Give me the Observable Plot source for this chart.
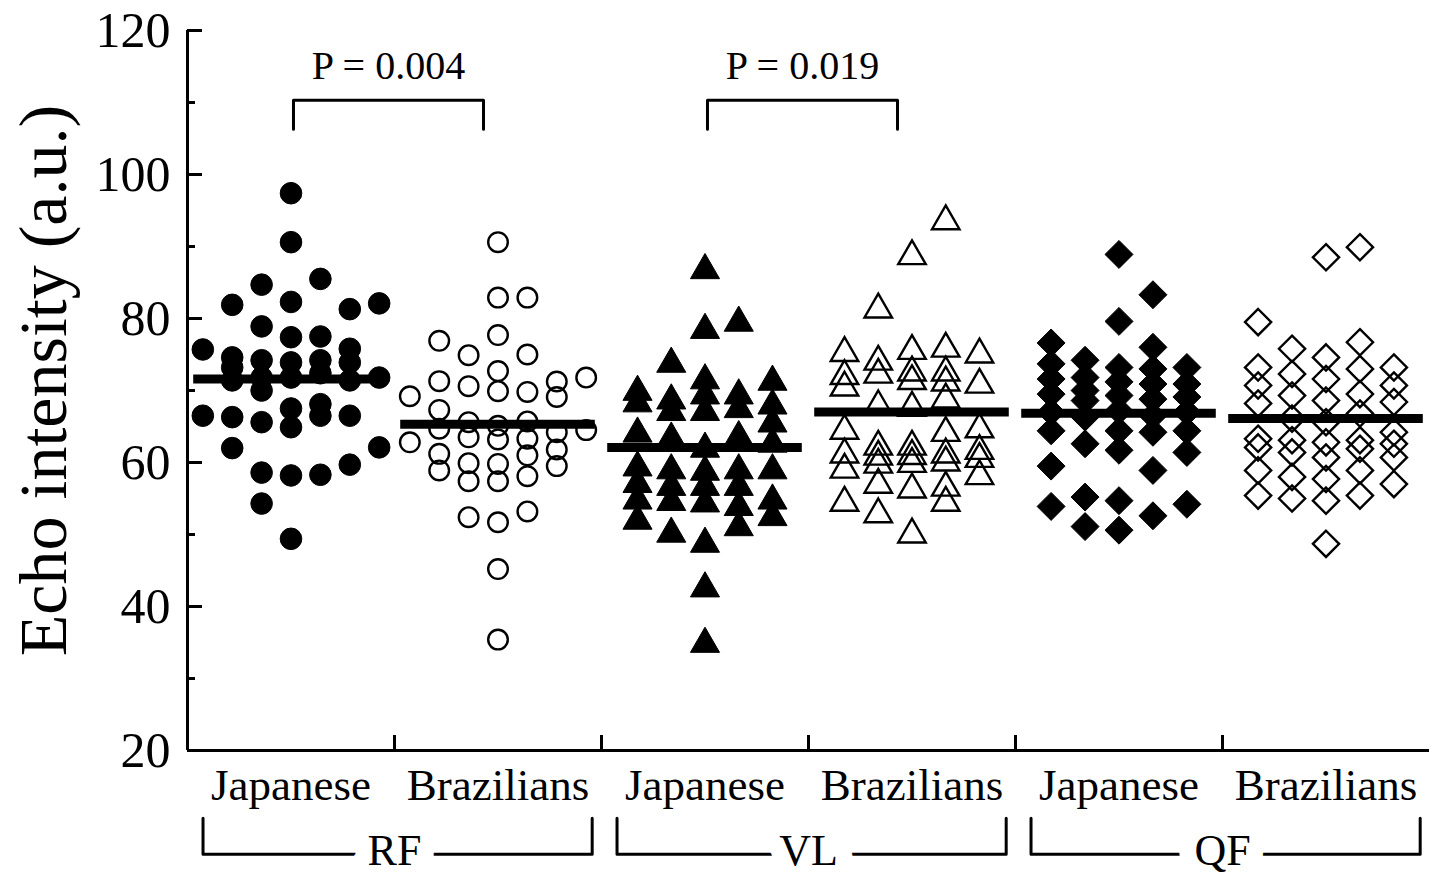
<!DOCTYPE html>
<html>
<head>
<meta charset="utf-8">
<script src="https://cdn.jsdelivr.net/npm/d3@7"></script>
<script src="https://cdn.jsdelivr.net/npm/@observablehq/plot@0.6"></script>
<style>
  html, body { margin: 0; padding: 0; background: #fff; }
  #chart svg { display: block; }
</style>
</head>
<body>
<div id="chart"></div>
<script>
// ---------------- DATA ----------------
const muscles = ["RF", "VL", "QF"];
const nationalities = ["Japanese", "Brazilians"];
const yTickLabels = [20, 40, 60, 80, 100, 120];
const yMinorTicks = [30, 50, 70, 90, 110];
const yAxisTitle = "Echo intensity (a.u.)";

// each group: values listed per display column (left → right)
const rfJapanese = [
  [75.7, 66.5],
  [81.9, 74.6, 73.2, 71.4, 66.3, 62.0],
  [84.7, 78.9, 74.2, 71.8, 70.0, 65.6, 58.6, 54.3],
  [97.4, 90.6, 82.3, 77.4, 73.9, 71.8, 67.5, 64.9, 58.2, 49.4],
  [85.5, 77.5, 74.2, 72.4, 68.1, 66.5, 58.3],
  [81.3, 75.8, 73.9, 71.4, 66.5, 59.7],
  [82.1, 71.8, 62.1]
];
const rfBrazilians = [
  [69.2, 62.8],
  [76.9, 71.3, 67.3, 64.7, 61.2, 58.9],
  [74.9, 70.6, 65.6, 63.5, 59.9, 57.4, 52.4],
  [90.6, 82.9, 77.7, 72.7, 69.9, 65.1, 63.2, 59.8, 57.4, 51.7, 45.2, 35.4],
  [82.9, 75.0, 69.8, 65.7, 63.3, 61.0, 58.1, 53.2],
  [71.25, 69.1, 64.2, 61.8, 59.5],
  [71.8, 64.5]
];
const vlJapanese = [
  [69.8, 68.2, 64.0, 59.3, 57.0, 54.7, 51.9],
  [73.7, 68.6, 67.0, 63.3, 58.9, 56.6, 54.5, 50.1],
  [86.7, 78.4, 71.4, 69.3, 67.0, 61.9, 58.7, 56.6, 54.3, 48.7, 42.5, 34.8],
  [79.4, 69.3, 67.4, 63.5, 58.9, 56.6, 53.8, 51.0],
  [71.2, 67.9, 65.4, 62.6, 58.9, 54.7, 52.4]
];
const vlBrazilians = [
  [75.2, 72.0, 70.4, 64.4, 61.1, 59.0, 54.4],
  [81.25, 74.0, 72.2, 67.8, 62.2, 60.8, 59.7, 56.9, 52.8],
  [88.65, 75.5, 72.5, 71.3, 67.6, 62.2, 60.9, 59.8, 56.25, 50.0],
  [93.5, 75.8, 72.5, 71.1, 68.75, 64.1, 61.1, 60.0, 56.5, 54.4],
  [75.0, 70.8, 64.6, 61.6, 60.5, 58.1]
];
const qfJapanese = [
  [76.6, 73.7, 71.6, 69.5, 67.0, 64.4, 59.5, 53.9],
  [74.2, 71.8, 70.0, 68.6, 66.3, 62.6, 55.2, 51.1],
  [88.9, 79.6, 73.2, 71.2, 69.3, 67.2, 64.4, 61.7, 54.7, 50.6],
  [83.3, 76.0, 73.0, 70.9, 68.8, 66.5, 64.2, 58.9, 52.6],
  [73.2, 70.9, 69.1, 67.0, 64.4, 61.4, 54.2]
];
const qfBrazilians = [
  [79.5, 73.2, 70.7, 68.2, 63.3, 62.1, 58.9, 55.4],
  [75.8, 72.3, 69.3, 66.1, 63.1, 61.4, 58.0, 55.0],
  [88.5, 74.6, 71.6, 68.6, 65.6, 62.8, 60.7, 57.7, 54.7, 48.7],
  [89.9, 76.7, 73.0, 69.5, 66.8, 63.1, 61.9, 58.9, 55.4],
  [73.2, 70.7, 68.4, 64.2, 62.6, 60.7, 57.0]
];
// group means (horizontal bars)
const groupMeans = [71.6, 65.3, 62.1, 67.0, 66.85, 66.1];
// significance annotations: compared groups and label
const compFirst = [0, 2];
const compSecond = [1, 3];
const compLabels = ["P = 0.004", "P = 0.019"];

// ---------------- LAYOUT / STYLE ----------------
const W = 1438, H = 875;
const M = {top: 30, right: 9, bottom: 125, left: 187};
const frameW = W - M.left - M.right;
const frameH = H - M.top - M.bottom;
const xDomain = [-0.5, 5.5];
const yDomain = [20, 120];

const groupSets = [rfJapanese, rfBrazilians, vlJapanese, vlBrazilians, qfJapanese, qfBrazilians];
const groupStyle = [
  {symbol: "circle",   filled: true,  r: 10.8, step: 0.142},
  {symbol: "circle",   filled: false, r: 9.8,  step: 0.142},
  {symbol: "triangle", filled: true,  r: 10.8, step: 0.163},
  {symbol: "triangle", filled: false, r: 10.2, step: 0.163},
  {symbol: "diamond2", filled: true,  r: 12.6, step: 0.164},
  {symbol: "diamond2", filled: false, r: 11.8, step: 0.164}
];

const pBracketTop = 110.3, pBracketLeg = 106.3, pLabelY = 113.2;
const gBracketTop = 10.6, gBracketBottom = 5.6, gLabelY = 4.1;

// build tables
const pointsByGroup = groupSets.map((cols, g) =>
  cols.flatMap((vals, c) => vals.map(v => ({g, col: c - (cols.length - 1) / 2, value: v})))
);

const pBracketPts = compFirst.flatMap((a, k) => {
  const b = compSecond[k];
  const xa = a + 0.012, xb = b - 0.07;
  return [
    {k, x: xa, y: pBracketLeg}, {k, x: xa, y: pBracketTop},
    {k, x: xb, y: pBracketTop}, {k, x: xb, y: pBracketLeg}
  ];
});
const pLabelRows = compFirst.map((a, k) => ({x: (a + 0.012 + compSecond[k] - 0.07) / 2, text: compLabels[k]}));

const gBracketPts = muscles.flatMap((m, i) => {
  const x0 = 2 * i - 0.5 + 0.075, x1 = 2 * i + 1.5 - 0.045;
  return [
    {m, x: x0, y: gBracketTop}, {m, x: x0, y: gBracketBottom},
    {m, x: x1, y: gBracketBottom}, {m, x: x1, y: gBracketTop}
  ];
});

const boundaries = d3.range(1, groupSets.length).map(i => i - 0.5);

const dotMarks = pointsByGroup.map((pts, g) => {
  const s = groupStyle[g];
  return Plot.dot(pts, {
    x: d => d.g + d.col * s.step,
    y: "value",
    symbol: s.symbol,
    r: s.r,
    fill: s.filled ? "black" : "none",
    stroke: "black",
    strokeWidth: s.filled ? 1 : 2.4
  });
});

const chart = Plot.plot({
  width: W,
  height: H,
  marginTop: M.top,
  marginRight: M.right,
  marginBottom: M.bottom,
  marginLeft: M.left,
  x: {domain: xDomain, axis: null},
  y: {domain: yDomain, axis: null},
  style: {fontFamily: "'Liberation Serif', 'Times New Roman', serif", background: "white", color: "black"},
  marks: [
    ...dotMarks,
    Plot.ruleY(groupMeans, {y: d => d, x1: (d, i) => i - 0.47, x2: (d, i) => i + 0.47, strokeWidth: 9, stroke: "black"}),
    // axis lines
    Plot.ruleX([xDomain[0]], {strokeWidth: 3}),
    Plot.ruleY([yDomain[0]], {strokeWidth: 3}),
    // inward y ticks
    Plot.tickY(yTickLabels, {y: d => d, insetRight: frameW - 15, strokeWidth: 3}),
    Plot.tickY(yMinorTicks, {y: d => d, insetRight: frameW - 8, strokeWidth: 3}),
    // group separator ticks on x axis
    Plot.tickX(boundaries, {x: d => d, insetTop: frameH - 15, strokeWidth: 3}),
    Plot.axisY({ticks: yTickLabels, tickSize: 0, tickPadding: 17, fontSize: 50, label: null}),
    Plot.axisX({ticks: d3.range(groupSets.length), tickFormat: i => nationalities[i % 2], tickSize: 0, tickPadding: 18, fontSize: 45, label: null}),
    Plot.text([yAxisTitle], {text: d => d, frameAnchor: "left", textAnchor: "middle", lineAnchor: "middle", dx: -143, dy: -10, rotate: -90, fontSize: 68}),
    // significance brackets
    Plot.line(pBracketPts, {x: "x", y: "y", z: "k", strokeWidth: 3, stroke: "black"}),
    Plot.text(pLabelRows, {x: "x", y: () => pLabelY, text: "text", lineAnchor: "bottom", fontSize: 40}),
    // muscle brackets under the axis
    Plot.line(gBracketPts, {x: "x", y: "y", z: "m", strokeWidth: 3, stroke: "black"}),
    Plot.text(muscles, {x: (d, i) => 2 * i + 0.5, y: () => gLabelY, text: d => d, lineAnchor: "bottom", fontSize: 44,
      stroke: "white", strokeWidth: 34, fill: "black", paintOrder: "stroke"})
  ]
});
document.getElementById("chart").append(chart);
</script>
</body>
</html>
